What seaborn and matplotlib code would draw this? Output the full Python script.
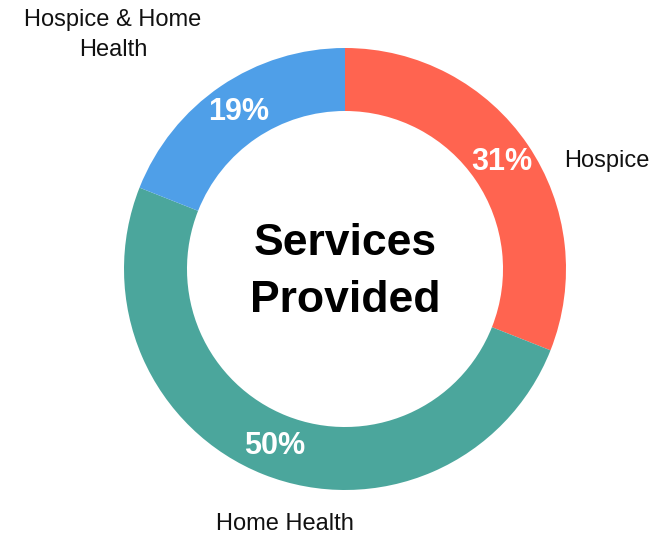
import matplotlib
matplotlib.use("Agg")
import matplotlib.pyplot as plt
import seaborn as sns

# data
services = ["Hospice", "Home Health", "Hospice & Home\nHealth"]
shares = [31, 50, 19]
colors = ["#FF6450", "#4BA69C", "#4F9FE8"]

sns.set_theme(style="white")
plt.rcParams["font.family"] = ["Liberation Sans", "DejaVu Sans"]

fig = plt.figure(figsize=(6.57, 5.37), dpi=100)
ax = fig.add_axes([0, 0, 1, 1])
ax.set_xlim(0, 657)
ax.set_ylim(0, 537)
ax.set_aspect("equal")
ax.axis("off")

cx, cy, r = 345, 268, 221
wedges, texts, pcts = ax.pie(
    shares, colors=sns.color_palette(colors), startangle=90, counterclock=False,
    center=(cx, cy), radius=r, autopct="%d%%", pctdistance=0.86,
    wedgeprops=dict(width=r * 0.285, edgecolor="none"),
    textprops=dict(color="white", fontsize=22, fontweight="bold"),
)
ax.set_xlim(0, 657)
ax.set_ylim(0, 537)

ax.text(cx, cy - 3, "Services\nProvided", ha="center", va="center",
        fontsize=32, fontweight="bold", color="black", linespacing=1.5)

# outer category labels
label_pos = [(607, 376), (285, 13), (113, 502)]
for name, (x, y) in zip(services, label_pos):
    ax.text(x, y, name, ha="center", va="center", fontsize=17,
            color="#111111", linespacing=1.45)

fig.savefig("out.png", dpi=100, facecolor="white")
